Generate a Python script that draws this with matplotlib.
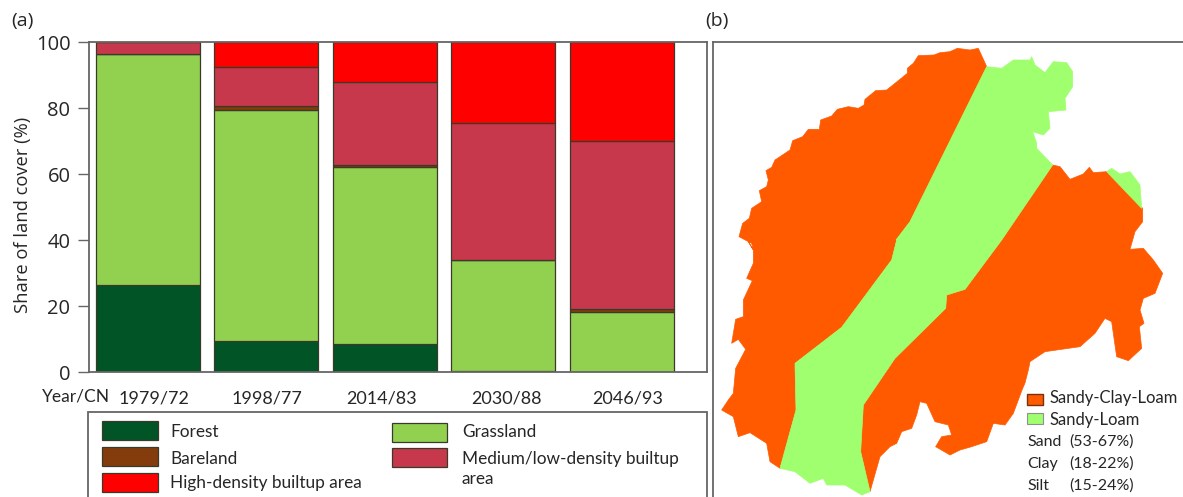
import matplotlib
matplotlib.use("Agg")
import matplotlib.pyplot as plt
from matplotlib.patches import Polygon, Rectangle

W, H = 1183, 497

years = ["1979/72", "1998/77", "2014/83", "2030/88", "2046/93"]
forest = [26.5, 9.5, 8.5, 0.3, 0.0]
grassland = [69.8, 70.0, 53.5, 33.5, 18.2]
bareland = [0.0, 1.0, 0.7, 0.0, 1.0]
medium = [3.7, 11.8, 25.3, 41.7, 50.8]
high = [0.0, 7.7, 12.0, 24.5, 30.0]

series = [("Forest", forest, "#005426"), ("Grassland", grassland, "#92D050"),
          ("Bareland", bareland, "#843C0C"), ("Medium", medium, "#C7384C"),
          ("High", high, "#FF0000")]

# map outlines traced from magnified views: each list has its own view origin
def view(points, x0, y0):
    return [(x0 + a / 3, y0 + b / 3) for a, b in points]

edge_top_left = view([(745,25),(720,30),(682,25),(660,35),(630,38),(612,45),(565,47),(550,70),(532,85),(532,100),
 (510,118),(470,150),(437,152),(405,178),(402,195),(385,205),(355,200),(322,208),(305,228),(272,240),(268,268),
 (235,268),(218,290),(188,302),(180,330),(135,360),(125,382),(108,392),(115,420),(110,440),(88,452),(95,485),
 (65,505),(58,535),(38,550),(27,590),(65,610),(70,630)], 730, 40)
edge_left = view([(100,5),(115,30),(115,70),(95,115),(112,122),(85,180),(85,230),(62,238),(50,310),(70,298),
 (92,328),(62,385),(55,460),(40,480),(20,510),(55,530),(70,590),(105,578),(155,610),(165,665),(195,685)], 715, 240)
edge_bottom = view([(240,695),(285,730),(325,715),(335,735),(390,735),(440,765),(465,755)], 715, 240)
edge_bottom_right = view([(475,720),(495,650),(525,620),(545,610),(560,575),(590,565),(605,525),(615,485),(635,490),
 (660,545),(700,555),(710,585),(680,590),(662,620),(705,645),(735,630),(770,620),(815,605),(835,550),(870,555),
 (895,520)], 715, 240)
edge_right = [(1022, 390), (1025, 383)] + view([(145,960),(150,935),(195,905),(300,890),(345,850),(375,805),(395,815),
 (410,920),(445,932),(485,895),(478,830),(492,820),(480,780),(490,745),(525,730),(548,670),(520,630),(490,595),
 (450,598),(465,545),(488,515),(488,475)], 980, 50)
edge_notch = view([(380,365),(340,368),(328,352),(310,372),(270,388),(240,350),(218,345)], 980, 50)
edge_green_top = view([(20,50),(65,55),(100,30),(150,30),(155,20),(165,45),(195,68),(220,35),(260,38),(278,65),(278,110),
 (255,145),(258,180),(205,185),(210,235),(190,255),(158,245),(170,280),(170,295),(218,345)], 980, 50)
edge_green_small = view([(380,365),(395,355),(420,372),(450,365),(480,405),(485,475)], 980, 50)
split_left = view([(195,685),(243,510),(240,370),(380,262),(530,60),(545,0)], 715, 240) + view([(498,600),(540,545),(770,80)], 730, 40)
split_right = view([(465,755),(437,635),(445,495),(540,355),(692,205),(695,165),(750,148),(860,0)], 715, 240) + view([(218,345)], 980, 50)

left_orange = edge_top_left + edge_left + split_left
center_green = edge_green_top + split_right[::-1] + edge_bottom[::-1] + split_left
right_orange = edge_notch[::-1] + edge_right[::-1] + edge_bottom_right[::-1] + split_right

fig = plt.figure(figsize=(W/100, H/100), dpi=100)
fig.patch.set_facecolor("white")
plt.rcParams["font.family"] = ["Open Sans", "DejaVu Sans"]

L, R, T, B = 88.5, 707, 42, 372
ax = fig.add_axes([L/W, 1-B/H, (R-L)/W, (B-T)/H])
c0, step = 148, 118.4
ax.set_xlim((L-c0)/step, (R-c0)/step)
ax.set_ylim(0, 100)
x = list(range(len(years)))
bottom = [0.0]*len(years)
for name, vals, col in series:
    ax.bar(x, vals, width=0.878, bottom=bottom, color=col, edgecolor="#3a3a2a", linewidth=0.9)
    bottom = [b+v for b, v in zip(bottom, vals)]
for s in ax.spines.values():
    s.set_color("#666666"); s.set_linewidth(1.3)
ax.set_yticks([0, 20, 40, 60, 80, 100])
ax.tick_params(axis="y", length=8, width=1, color="#666666", labelsize=14.5, labelcolor="#262626", pad=5)
label_px = [154, 267, 382, 506, 628]
ax.set_xticks([(p-c0)/step for p in label_px])
ax.set_xticklabels(years, fontsize=13, color="#262626", family=["Lato", "DejaVu Sans"])
ax.tick_params(axis="x", length=0, pad=13)
ax.set_ylabel("Share of land cover (%)", fontsize=13.2, color="#262626", labelpad=0)
ax.yaxis.set_label_coords((32-L)/(R-L), (B-215)/(B-T))

ov = fig.add_axes([0, 0, 1, 1], facecolor="none")
ov.set_xlim(0, W); ov.set_ylim(H, 0); ov.axis("off")
LAT = ["Lato", "DejaVu Sans"]
ov.text(11, 21, "(a)", fontsize=14, color="#262626", va="center")
ov.text(705, 21, "(b)", fontsize=14, color="#262626", va="center")
ov.text(42, 397, "Year/CN", fontsize=12.5, color="#262626", va="center", family=LAT)

# bar legend
ov.add_patch(Rectangle((88.5, 412), 618.5, 100, fc="white", ec="#666666", lw=1.3))
swatches = [(102, 421, 56, 19, "#005426", "Forest", 170, 432),
            (102, 447, 56, 19, "#843C0C", "Bareland", 170, 459),
            (102, 473, 56, 19, "#FF0000", "High-density builtup area", 170, 483),
            (392, 423, 55, 19, "#92D050", "Grassland", 462, 432),
            (392, 448, 55, 19, "#C7384C", "Medium/low-density builtup", 462, 459)]
for sx, sy, sw, sh, col, lab, tx, ty in swatches:
    ov.add_patch(Rectangle((sx, sy), sw, sh, fc=col, ec="#3a3a2a", lw=0.9))
    ov.text(tx, ty, lab, fontsize=12.4, color="#262626", va="center", family=LAT)
ov.text(462, 479, "area", fontsize=12.4, color="#262626", va="center", family=LAT)

# map panel frame
ov.plot([713, 713], [497, 42], color="#666666", lw=1.3)
ov.plot([713, 1183], [42, 42], color="#666666", lw=1.3)
for pts, col in [(left_orange, "#FF5A00"), (right_orange, "#FF5A00"),
                 (center_green, "#A0FF6E"), (edge_green_small, "#A0FF6E")]:
    ov.add_patch(Polygon(pts, closed=True, fc=col, ec=col, lw=0.5))

ov.add_patch(Rectangle((1027, 394), 16, 11, fc="#FF5A00", ec="#7a3010", lw=1))
ov.add_patch(Rectangle((1027, 413), 16, 11, fc="#A0FF6E", ec="#909090", lw=0.8))
ov.text(1050, 398, "Sandy-Clay-Loam", fontsize=12, color="#262626", va="center", family=LAT)
ov.text(1050, 420, "Sandy-Loam", fontsize=12, color="#262626", va="center", family=LAT)
for lab, val, y in [("Sand", "(53-67%)", 442), ("Clay", "(18-22%)", 464), ("Silt", "(15-24%)", 486)]:
    ov.text(1027, y, lab, fontsize=11.5, color="#262626", va="center", family=LAT)
    ov.text(1069, y, val, fontsize=11.5, color="#262626", va="center", family=LAT)

fig.savefig("out.png", dpi=100)
